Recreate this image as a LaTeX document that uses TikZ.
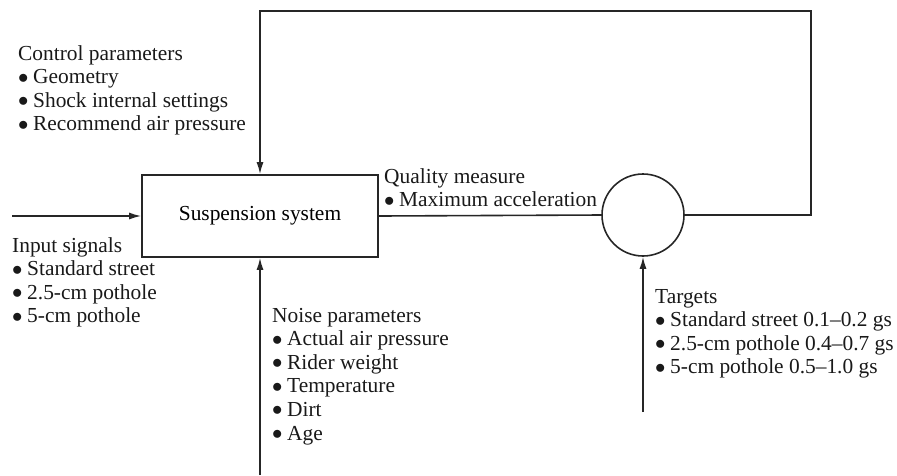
\documentclass[tikz,border=0pt]{standalone}
\usepackage{fontspec}
\setmainfont{Liberation Serif}
\usetikzlibrary{arrows.meta}
\newcommand{\mybul}{\makebox[15pt][l]{\raisebox{0.5pt}{$\bullet$}}}
\begin{document}
\begin{tikzpicture}[x=1pt,y=-1pt,
  line/.style={line width=1.6pt,draw=black!85},
  arr/.style={line,-{Latex[length=12pt,width=7pt]}},
  txt/.style={anchor=base west,inner sep=0pt,font=\fontsize{21.4}{23.5}\selectfont,text=black!90},
  blockbox/.style={line,minimum width=236pt,minimum height=82pt,inner sep=0pt,font=\fontsize{21.4}{23.5}\selectfont},
  sumcircle/.style={line,circle,minimum size=82pt,inner sep=0pt}]
\useasboundingbox (0,0) rectangle (897,475);
\node[blockbox] (sys) at (260,216) {Suspension system};
\node[sumcircle] (cmp) at (643,215) {};
\coordinate (inS) at (12,216);
\coordinate (noiseS) at (260,475);
\coordinate (tgtS) at (643,412);
\coordinate (fb1) at (811,215);
\coordinate (fb2) at (811,11);
\coordinate (fb3) at (260,11);
\draw[arr] (inS) -- (sys.west);
\draw[arr] (noiseS) -- (sys.south);
\draw[arr] (tgtS) -- (cmp.south);
\draw[line] (sys.east) -- (cmp.west);
\draw[arr] (cmp.east) -- (fb1) -- (fb2) -- (fb3) -- (sys.north);
% Control parameters
\node[txt] (c0) at (18,60) {Control parameters};
\node[txt] (c1) at (18,83.5) {\mybul Geometry};
\node[txt] (c2) at (18,107) {\mybul Shock internal settings};
\node[txt] (c3) at (18,130.5) {\mybul Recommend air pressure};
% Input signals
\node[txt] (i0) at (12,252) {Input signals};
\node[txt] (i1) at (12,275.5) {\mybul Standard street};
\node[txt] (i2) at (12,299) {\mybul 2.5-cm pothole};
\node[txt] (i3) at (12,322.5) {\mybul 5-cm pothole};
% Quality measure
\node[txt] (q0) at (384,183) {Quality measure};
\node[txt] (q1) at (384,206.5) {\mybul Maximum acceleration};
% Noise parameters
\node[txt] (n0) at (272,322) {Noise parameters};
\node[txt] (n1) at (272,345.6) {\mybul Actual air pressure};
\node[txt] (n2) at (272,369.2) {\mybul Rider weight};
\node[txt] (n3) at (272,392.8) {\mybul Temperature};
\node[txt] (n4) at (272,416.4) {\mybul Dirt};
\node[txt] (n5) at (272,440) {\mybul Age};
% Targets
\node[txt] (t0) at (655,303) {Targets};
\node[txt] (t1) at (655,326.5) {\mybul Standard street 0.1--0.2 gs};
\node[txt] (t2) at (655,350) {\mybul 2.5-cm pothole 0.4--0.7 gs};
\node[txt] (t3) at (655,373.5) {\mybul 5-cm pothole 0.5--1.0 gs};
\end{tikzpicture}
\end{document}
